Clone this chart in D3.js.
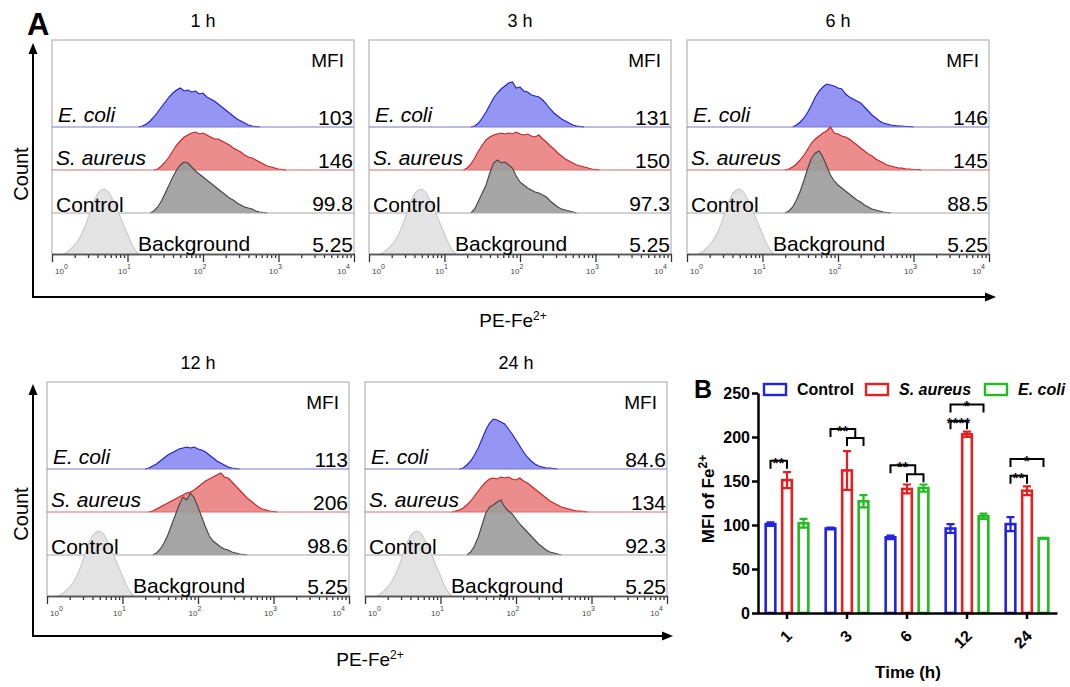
<!DOCTYPE html>
<html>
<head>
<meta charset="utf-8">
<script src="https://cdn.jsdelivr.net/npm/d3@7"></script>
<style>
  body { margin: 0; background: #fff; }
  svg { display: block; }
  text { font-family: "Liberation Sans", Arial, sans-serif; }
</style>
</head>
<body>
<div id="fig"></div>
<script>
// ---- Panel A : histogrammes de cytométrie (PE-Fe2+) ----
const timeLabels    = ["1 h", "3 h", "6 h", "12 h", "24 h"];
const mfiEcoli      = ["103", "131", "146", "113", "84.6"];
const mfiSaureus    = ["146", "150", "145", "206", "134"];
const mfiControl    = ["99.8", "97.3", "88.5", "98.6", "92.3"];
const mfiBackground = ["5.25", "5.25", "5.25", "5.25", "5.25"];
const logTicks      = [1, 10, 100, 1000, 10000];
const binStep       = 0.05; // largeur d'un canal, en log10

// début (log10) de chaque histogramme puis comptes relatifs canal par canal
const ecoliStart = [1.15, 1.35, 1.4, 1.3, 1.25];
const ecoliCounts = [
  [0,1,3,6,10,15,20,25,30,34,37,39,36,37,35,36,33,34,30,28,26,23,20,17,14,11,8,6,4,2,1,0.5,0],
  [0,1,4,9,15,22,29,34,38,41,44,45,39,40,36,35,32,31,30,27,23,18,14,11,8,6,4,2,1,0.5,0],
  [0,2,5,9,15,22,30,36,40,43,42,41,39,38,33,30,28,26,24,20,16,12,9,6,4,3,2,1.5,1,1,0.5,0.5,0],
  [0,1,3,5,8,11,14,16,18,20,21,22,21,22,20,19,17,14,11,8,6,4,2,1,0.5,0],
  [0,1,4,8,14,21,30,39,46,50,49,47,45,40,35,29,23,17,12,8,5,3,2,1,1,0.5,0]
];
const saureusStart = [1.35, 1.25, 1.3, 1.35, 1.15];
const saureusCounts = [
  [0,1,4,8,13,19,25,29,33,35,37,38,36,37,35,33,31,31,29,27,25,22,20,18,15,13,12,10,8,6,4,3,2,1,0.5,0],
  [0,2,6,12,19,25,30,33,35,36,37,36,37,36,38,36,35,36,34,33,35,31,28,24,21,17,14,11,9,7,5,4,3,2,1,0.5,0],
  [0,1,3,6,10,15,21,27,31,34,37,39,43,37,36,34,33,31,28,25,22,19,16,14,11,9,7,5,4,3,2,2,1,1,0.5,0.5,0],
  [0,1,3,5,7,9,11,13,15,17,19,20,22,25,28,31,33,35,37,39,35,34,30,26,22,18,14,11,8,5,3,2,1,0.5,0],
  [0,1,2,4,7,11,16,21,26,30,33,34,33,35,34,35,33,32,34,31,29,26,23,20,17,14,11,9,7,5,4,3,2,1,1,0.5,0]
];
const controlStart = [1.3, 1.35, 1.3, 1.4, 1.35];
const controlCounts = [
  [0,2,6,12,20,28,36,43,48,51,50,46,42,39,36,33,30,27,24,21,18,15,13,10,8,6,5,4,2,1,0.5,0],
  [0,4,12,20,28,40,50,53,50,51,48,45,37,31,28,25,23,21,20,18,16,12,9,6,4,3,2,1,0],
  [0,2,6,13,22,33,45,55,60,62,56,47,38,32,28,25,22,19,16,13,11,8,6,4,3,2,1,0.5,0],
  [0,2,6,12,20,30,40,50,58,55,62,57,48,38,28,19,14,11,8,6,5,3,2,1,0.5,0],
  [0,3,9,18,30,42,48,50,53,55,48,44,41,36,31,27,23,19,15,11,8,5,3,2,1,0]
];
const backgroundStart = 0.15;
const backgroundCounts = [0,2,5,9,14,21,30,41,52,60,64,65,62,55,47,38,29,20,11,4,0];

// ---- Panel B : MFI moyenne ----
const barTimes   = ["1", "3", "6", "12", "24"];
const barSeries  = ["Control", "S. aureus", "E. coli"];
const barControl = [101, 96, 86, 96, 101];
const barSaureus = [151, 162, 141, 203, 139];
const barEcoli   = [102, 127, 142, 110, 85];
const errControl = [2, 1, 2, 5, 8];
const errSaureus = [9, 22, 5, 3, 5];
const errEcoli   = [5, 7, 4, 3, 0.5];
const yTicksB    = [0, 50, 100, 150, 200, 250];

// comparaisons (toujours depuis Control)
const sigTime  = ["1", "3", "6", "12", "12", "24", "24"];
const sigTo    = [["S. aureus"], ["S. aureus", "E. coli"], ["S. aureus", "E. coli"],
                  ["S. aureus"], ["E. coli"], ["S. aureus"], ["E. coli"]];
const sigLevel = [173, 209, 168, 218, 237, 156, 175];
const sigLabel = ["**", "**", "**", "****", "*", "**", "*"];

// ------------------------------------------------------------------
const svg = d3.select("#fig").append("svg")
    .attr("width", 1070).attr("height", 687);
svg.append("rect").attr("width", 1070).attr("height", 687).attr("fill", "#fff");

const largeurBoite = 302, hauteurBoite = 214;
const positions = [[52, 40], [369, 40], [687, 40], [47, 382], [365, 382]];
const basesRel  = [87, 130, 173, 214];

const styles = [
  { fill: "#9595f3", stroke: "#1e1ecf", ligne: "#7a7ac8", italic: true,  lx: 6,  ly: -5 },
  { fill: "#ec8d8d", stroke: "#c82020", ligne: "#d47070", italic: true,  lx: 4,  ly: -5 },
  { fill: "#9b9b9b", stroke: "#444444", ligne: "#a8a8a8", italic: false, lx: 4,  ly: -1 },
  { fill: "#e3e3e3", stroke: "#c9c9c9", ligne: "#555555", italic: false, lx: 86, ly: -3 }
];

function dessinerPanneau(i) {
  const [left, top] = positions[i];
  const g = svg.append("g");
  const x = d3.scaleLog().domain([1, 1e4]).range([left, left + largeurBoite]);
  const h = d3.scaleLinear().domain([0, 66]).range([0, 66]);
  const bases = basesRel.map(d => top + d);

  const lignes = [
    { start: ecoliStart[i],    counts: ecoliCounts[i],    nom: "E. coli",    mfi: mfiEcoli[i] },
    { start: saureusStart[i],  counts: saureusCounts[i],  nom: "S. aureus",  mfi: mfiSaureus[i] },
    { start: controlStart[i],  counts: controlCounts[i],  nom: "Control",    mfi: mfiControl[i] },
    { start: backgroundStart,  counts: backgroundCounts,  nom: "Background", mfi: mfiBackground[i] }
  ];

  // cadre
  g.append("path")
    .attr("d", `M${left},${top + hauteurBoite}V${top}H${left + largeurBoite}V${top + hauteurBoite}`)
    .attr("fill", "none").attr("stroke", "#c2c2c2").attr("stroke-width", 1.5);

  lignes.forEach((r, k) => {
    const base = bases[k], st = styles[k];
    const xs = (d, j) => x(Math.pow(10, r.start + j * binStep));
    const aire = d3.area().x(xs).y0(base).y1(d => base - h(d));
    const trait = d3.line().x(xs).y(d => base - h(d));
    g.append("path").datum(r.counts).attr("d", aire)
      .attr("fill", st.fill).attr("fill-opacity", k === 2 ? 0.9 : 1);
    g.append("path").datum(r.counts).attr("d", trait)
      .attr("fill", "none").attr("stroke", st.stroke).attr("stroke-width", 1.1);
    if (k < 3) {
      g.append("line").attr("x1", left).attr("x2", left + largeurBoite)
        .attr("y1", base).attr("y2", base)
        .attr("stroke", st.ligne).attr("stroke-width", 1.2);
    }
  });

  // axe log
  const mineurs = [];
  for (let e = 0; e < 4; e++) for (let m = 2; m < 10; m++) mineurs.push(m * Math.pow(10, e));
  const axeMin = g.append("g").attr("transform", `translate(0,${bases[3]})`)
    .call(d3.axisBottom(x).tickValues(mineurs).tickSize(4).tickSizeOuter(0).tickFormat(""));
  const axeMaj = g.append("g").attr("transform", `translate(0,${bases[3]})`)
    .call(d3.axisBottom(x).tickValues(logTicks).tickSize(8).tickSizeOuter(0).tickFormat(""));
  [axeMin, axeMaj].forEach(a => {
    a.select(".domain").attr("stroke", "#555").attr("stroke-width", 1.3);
    a.selectAll(".tick line").attr("stroke", "#333").attr("stroke-width", 1.3);
  });

  logTicks.forEach((v, j) => {
    const t = g.append("text")
      .attr("x", x(v) + (j === 0 ? 3 : j === 4 ? -4 : -3))
      .attr("y", bases[3] + 20)
      .attr("font-size", 8).attr("fill", "#444")
      .attr("text-anchor", j === 0 ? "start" : j === 4 ? "end" : "middle");
    t.append("tspan").text("10");
    t.append("tspan").attr("dy", -5).attr("font-size", 7).text(String(j));
  });

  // textes
  g.append("text").attr("x", left + largeurBoite / 2).attr("y", top - 13)
    .attr("text-anchor", "middle").attr("font-size", 18).text(timeLabels[i]);
  g.append("text").attr("x", left + largeurBoite - 10).attr("y", top + 27)
    .attr("text-anchor", "end").attr("font-size", 19).text("MFI");
  lignes.forEach((r, k) => {
    const st = styles[k];
    g.append("text").attr("x", left + st.lx).attr("y", bases[k] + st.ly)
      .attr("font-size", 21).attr("font-style", st.italic ? "italic" : "normal")
      .text(r.nom);
    g.append("text").attr("x", left + largeurBoite - 1).attr("y", bases[k] - 2)
      .attr("text-anchor", "end").attr("font-size", 21).text(r.mfi);
  });
}

timeLabels.forEach((d, i) => dessinerPanneau(i));

// axes en L avec flèches
function axeFleche(yHaut, yBas, xDroite, xLabel) {
  const g = svg.append("g");
  g.append("path").attr("d", `M33,${yHaut + 8}V${yBas}H${xDroite - 8}`)
    .attr("fill", "none").attr("stroke", "#000").attr("stroke-width", 2);
  g.append("path").attr("d", `M33,${yHaut}l-4.5,11h9z`).attr("fill", "#000");
  g.append("path").attr("d", `M${xDroite},${yBas}l-11,-4.5v9z`).attr("fill", "#000");
  g.append("text").attr("transform", `translate(28,${(yHaut + yBas) / 2 + 4}) rotate(-90)`)
    .attr("text-anchor", "middle").attr("font-size", 20).text("Count");
  const t = g.append("text").attr("x", xLabel).attr("y", yBas + 30)
    .attr("text-anchor", "middle").attr("font-size", 19);
  t.append("tspan").text("PE-Fe");
  t.append("tspan").attr("dy", -7).attr("font-size", 12).text("2+");
}
axeFleche(43, 297, 996, 513);
axeFleche(384, 636, 673, 370);

svg.append("text").attr("x", 27).attr("y", 35)
  .attr("font-size", 31).attr("font-weight", "bold").text("A");

// ---- Panel B ----
const gB = svg.append("g");
const yB = d3.scaleLinear().domain([0, 250]).range([613, 393]);
const xB = d3.scaleBand().domain(barTimes).range([757, 1057]);
const xS = d3.scaleBand().domain(barSeries).range([-25, 25]).paddingInner(0.27).paddingOuter(0.15);
const couleurs = { "Control": "#2323e6", "S. aureus": "#e52020", "E. coli": "#22bb22" };
const valeurs  = { "Control": barControl, "S. aureus": barSaureus, "E. coli": barEcoli };
const erreurs  = { "Control": errControl, "S. aureus": errSaureus, "E. coli": errEcoli };
const centre = t => xB(t) + xB.bandwidth() / 2;
const cBarre = (t, s) => centre(t) + xS(s) + xS.bandwidth() / 2;

barSeries.forEach(s => {
  barTimes.forEach((t, j) => {
    const v = valeurs[s][j], e = erreurs[s][j], c = couleurs[s];
    const bx = centre(t) + xS(s);
    gB.append("rect").attr("x", bx + 1.2).attr("y", yB(v))
      .attr("width", xS.bandwidth() - 2.4).attr("height", yB(0) - yB(v))
      .attr("fill", "none").attr("stroke", c).attr("stroke-width", 2.6);
    const cx = cBarre(t, s);
    gB.append("path")
      .attr("d", `M${cx},${yB(v - e)}V${yB(v + e)}M${cx - 4},${yB(v + e)}h8M${cx - 4},${yB(v - e)}h8`)
      .attr("fill", "none").attr("stroke", c).attr("stroke-width", 2.2);
  });
});

// axes
const axeY = gB.append("g").attr("transform", "translate(758,0)")
  .call(d3.axisLeft(yB).tickValues(yTicksB).tickSize(6).tickSizeOuter(0));
const axeX = gB.append("g").attr("transform", "translate(0,613)")
  .call(d3.axisBottom(xB).tickSize(6).tickSizeOuter(0));
[axeY, axeX].forEach(a => {
  a.select(".domain").attr("stroke", "#000").attr("stroke-width", 2.5);
  a.selectAll(".tick line").attr("stroke", "#000").attr("stroke-width", 2.5);
  a.selectAll(".tick text").attr("fill", "#000").attr("font-size", 16).attr("font-weight", "bold")
    .attr("font-family", "Liberation Sans, Arial, sans-serif");
});
axeY.selectAll(".tick text").attr("x", -8);
axeX.selectAll(".tick text")
  .attr("text-anchor", "end").attr("dy", 0).attr("y", 0)
  .attr("transform", "translate(6,24) rotate(-45)");

gB.append("text").attr("x", 908).attr("y", 678).attr("text-anchor", "middle")
  .attr("font-size", 17).attr("font-weight", "bold").text("Time (h)");
const titreY = gB.append("text").attr("transform", "translate(714,499) rotate(-90)")
  .attr("text-anchor", "middle").attr("font-size", 17).attr("font-weight", "bold");
titreY.append("tspan").text("MFI of Fe");
titreY.append("tspan").attr("dy", -7).attr("font-size", 12).text("2+");

svg.append("text").attr("x", 694).attr("y", 398)
  .attr("font-size", 25).attr("font-weight", "bold").text("B");

// légende
const legendeX = [764, 866, 985];
barSeries.forEach((s, k) => {
  gB.append("rect").attr("x", legendeX[k]).attr("y", 384).attr("width", 22).attr("height", 11)
    .attr("fill", "none").attr("stroke", couleurs[s]).attr("stroke-width", 2.4);
  gB.append("text").attr("x", legendeX[k] + 33).attr("y", 395)
    .attr("font-size", 16).attr("font-weight", "bold")
    .attr("font-style", s === "Control" ? "normal" : "italic").text(s);
});

// crochets de significativité
sigTime.forEach((t, k) => {
  const y0 = yB(sigLevel[k]);
  const x1 = cBarre(t, "Control");
  let x2, chemin;
  if (sigTo[k].length > 1) {
    const xa = cBarre(t, sigTo[k][0]), xb = cBarre(t, sigTo[k][1]);
    x2 = (xa + xb) / 2;
    gB.append("path").attr("d", `M${xa},${y0 + 17}V${y0 + 9}H${xb}V${y0 + 17}`)
      .attr("fill", "none").attr("stroke", "#000").attr("stroke-width", 2);
    chemin = `M${x1},${y0 + 8}V${y0}H${x2}V${y0 + 9}`;
  } else {
    x2 = cBarre(t, sigTo[k][0]);
    chemin = `M${x1},${y0 + 8}V${y0}H${x2}V${y0 + 8}`;
  }
  gB.append("path").attr("d", chemin)
    .attr("fill", "none").attr("stroke", "#000").attr("stroke-width", 2);
  gB.append("text").attr("x", (x1 + x2) / 2).attr("y", y0 + 7)
    .attr("text-anchor", "middle").attr("font-size", 14).attr("font-weight", "bold")
    .attr("letter-spacing", 0.5).text(sigLabel[k]);
});
</script>
</body>
</html>
